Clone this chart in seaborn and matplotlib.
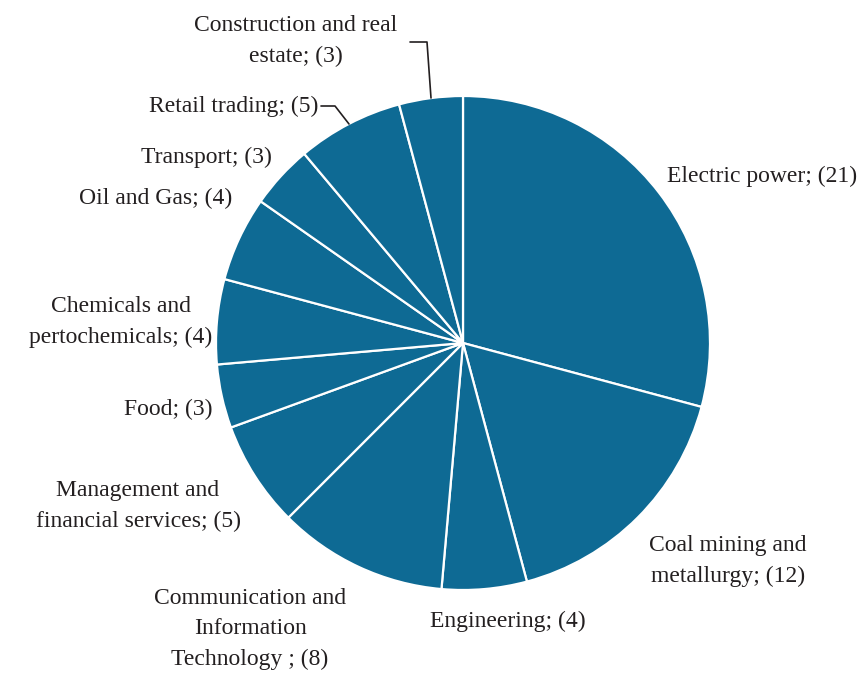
import matplotlib
matplotlib.use("Agg")
import matplotlib.pyplot as plt
import seaborn as sns

# Number of companies by industry
categories = [
    "Electric power",
    "Coal mining and\nmetallurgy",
    "Engineering",
    "Communication and\nInformation\nTechnology ",
    "Management and\nfinancial services",
    "Food",
    "Chemicals and\npertochemicals",
    "Oil and Gas",
    "Transport",
    "Retail trading",
    "Construction and real\nestate",
]
counts = [21, 12, 4, 8, 5, 3, 4, 4, 3, 5, 3]

sns.set_theme(style="white")
plt.rcParams["font.family"] = ["Liberation Serif", "DejaVu Serif"]

fig = plt.figure(figsize=(8.66, 6.74), dpi=100)
ax = fig.add_axes([0, 0, 1, 1])

color = "#0E6A94"
# y axis runs downward, so -90 is the top and counterclock=True runs clockwise on screen
ax.pie(counts, colors=[color] * len(counts), startangle=-90, counterclock=True,
       center=(463, 343), radius=247,
       wedgeprops=dict(edgecolor="white", linewidth=1.6))
ax.set_xlim(0, 866)
ax.set_ylim(674, 0)
ax.set_aspect("equal")
ax.axis("off")

# label placement: (x, y, ha)
placement = [
    (667, 176, "left"),
    (728, 561, "center"),
    (508, 621, "center"),
    (250, 629, "center"),
    (138, 506, "center"),
    (213, 409, "right"),
    (121, 322, "center"),
    (232, 198, "right"),
    (272, 157, "right"),
    (318, 106, "right"),
    (296, 41, "center"),
]
for name, n, (x, y, ha) in zip(categories, counts, placement):
    ax.text(x, y, f"{name}; ({n})", ha=ha, va="center", multialignment="center",
            fontsize=17, color="#231F20", linespacing=1.6)

# leader lines for the two small top slices
ax.plot([410, 427, 431], [42, 42, 98], color="#231F20", lw=1.2)
ax.plot([321, 335, 349], [106, 106, 124], color="#231F20", lw=1.2)

fig.savefig("out.png", dpi=100, facecolor="white")
